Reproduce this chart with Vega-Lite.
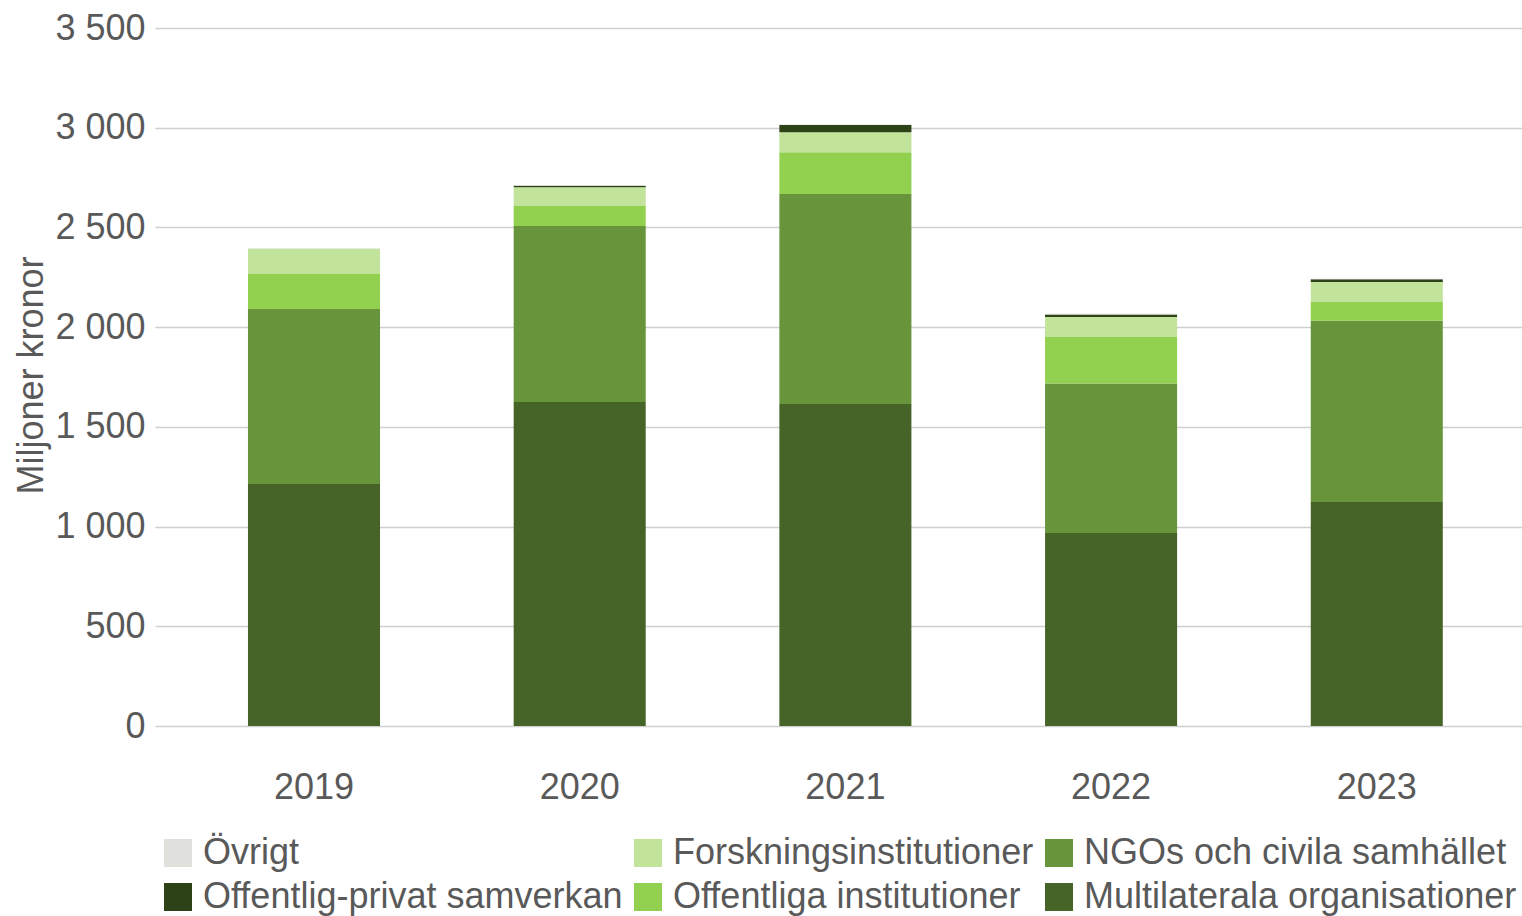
{
  "$schema": "https://vega.github.io/schema/vega-lite/v6.json",
  "autosize": "none",
  "width": 1367,
  "height": 698,
  "padding": {"left": 155, "top": 28, "right": 0, "bottom": 190},
  "background": "white",
  "config": {
    "view": {"stroke": null},
    "font": "Liberation Sans",
    "axis": {"labelFont": "Liberation Sans", "titleFont": "Liberation Sans", "labelColor": "#595959", "titleColor": "#595959"},
    "legend": {"labelFont": "Liberation Sans"}
  },
  "data": {
    "values": [
      {"year": "2019", "cat": "Multilaterala organisationer", "ord": 1, "value": 1213},
      {"year": "2019", "cat": "NGOs och civila samhället", "ord": 2, "value": 878},
      {"year": "2019", "cat": "Offentliga institutioner", "ord": 3, "value": 175},
      {"year": "2019", "cat": "Forskningsinstitutioner", "ord": 4, "value": 127},
      {"year": "2019", "cat": "Offentlig-privat samverkan", "ord": 5, "value": 0},
      {"year": "2019", "cat": "Övrigt", "ord": 6, "value": 3},
      {"year": "2020", "cat": "Multilaterala organisationer", "ord": 1, "value": 1625},
      {"year": "2020", "cat": "NGOs och civila samhället", "ord": 2, "value": 882},
      {"year": "2020", "cat": "Offentliga institutioner", "ord": 3, "value": 100},
      {"year": "2020", "cat": "Forskningsinstitutioner", "ord": 4, "value": 95},
      {"year": "2020", "cat": "Offentlig-privat samverkan", "ord": 5, "value": 7},
      {"year": "2020", "cat": "Övrigt", "ord": 6, "value": 2},
      {"year": "2021", "cat": "Multilaterala organisationer", "ord": 1, "value": 1615},
      {"year": "2021", "cat": "NGOs och civila samhället", "ord": 2, "value": 1053},
      {"year": "2021", "cat": "Offentliga institutioner", "ord": 3, "value": 209},
      {"year": "2021", "cat": "Forskningsinstitutioner", "ord": 4, "value": 100},
      {"year": "2021", "cat": "Offentlig-privat samverkan", "ord": 5, "value": 36},
      {"year": "2021", "cat": "Övrigt", "ord": 6, "value": 3},
      {"year": "2022", "cat": "Multilaterala organisationer", "ord": 1, "value": 968},
      {"year": "2022", "cat": "NGOs och civila samhället", "ord": 2, "value": 750},
      {"year": "2022", "cat": "Offentliga institutioner", "ord": 3, "value": 233},
      {"year": "2022", "cat": "Forskningsinstitutioner", "ord": 4, "value": 100},
      {"year": "2022", "cat": "Offentlig-privat samverkan", "ord": 5, "value": 13},
      {"year": "2022", "cat": "Övrigt", "ord": 6, "value": 3},
      {"year": "2023", "cat": "Multilaterala organisationer", "ord": 1, "value": 1123},
      {"year": "2023", "cat": "NGOs och civila samhället", "ord": 2, "value": 909},
      {"year": "2023", "cat": "Offentliga institutioner", "ord": 3, "value": 94},
      {"year": "2023", "cat": "Forskningsinstitutioner", "ord": 4, "value": 100},
      {"year": "2023", "cat": "Offentlig-privat samverkan", "ord": 5, "value": 14},
      {"year": "2023", "cat": "Övrigt", "ord": 6, "value": 3}
    ]
  },
  "mark": {"type": "bar"},
  "encoding": {
    "x": {
      "field": "year",
      "type": "nominal",
      "scale": {"paddingInner": 0.503, "paddingOuter": 0.324, "align": 0.54},
      "axis": {
        "title": null,
        "labelAngle": 0,
        "labelFontSize": 36,
        "labelPadding": 44,
        "ticks": false,
        "domain": false,
        "grid": false
      }
    },
    "y": {
      "field": "value",
      "type": "quantitative",
      "stack": "zero",
      "scale": {"domain": [0, 3500], "nice": false},
      "axis": {
        "title": "Miljoner kronor",
        "titleFontSize": 36,
        "titleFontWeight": "normal",
        "titleAngle": -90,
        "titleX": -113,
        "titleY": 347,
        "titleAlign": "center",
        "titleBaseline": "alphabetic",
        "values": [0, 500, 1000, 1500, 2000, 2500, 3000, 3500],
        "labelExpr": "replace(format(datum.value, ','), ',', ' ')",
        "labelFontSize": 36,
        "labelPadding": 10,
        "ticks": false,
        "domain": false,
        "grid": true,
        "gridColor": "#cfcfcf",
        "gridWidth": 1.3
      }
    },
    "color": {
      "field": "cat",
      "type": "nominal",
      "scale": {
        "domain": ["Övrigt", "Forskningsinstitutioner", "NGOs och civila samhället", "Offentlig-privat samverkan", "Offentliga institutioner", "Multilaterala organisationer"],
        "range": ["#e0e0dc", "#c2e39a", "#68953b", "#2d4317", "#92d050", "#466428"]
      },
      "legend": {
        "title": null,
        "orient": "none",
        "legendX": 5,
        "legendY": 807,
        "direction": "horizontal",
        "columns": 3,
        "symbolType": "square",
        "symbolSize": 784,
        "symbolStrokeWidth": 0,
        "symbolOpacity": 1,
        "labelFontSize": 36,
        "labelColor": "#595959",
        "labelOffset": 7,
        "labelLimit": 0,
        "columnPadding": 7,
        "rowPadding": 8,
        "padding": 0
      }
    },
    "order": {"field": "ord", "type": "quantitative", "sort": "ascending"}
  }
}
